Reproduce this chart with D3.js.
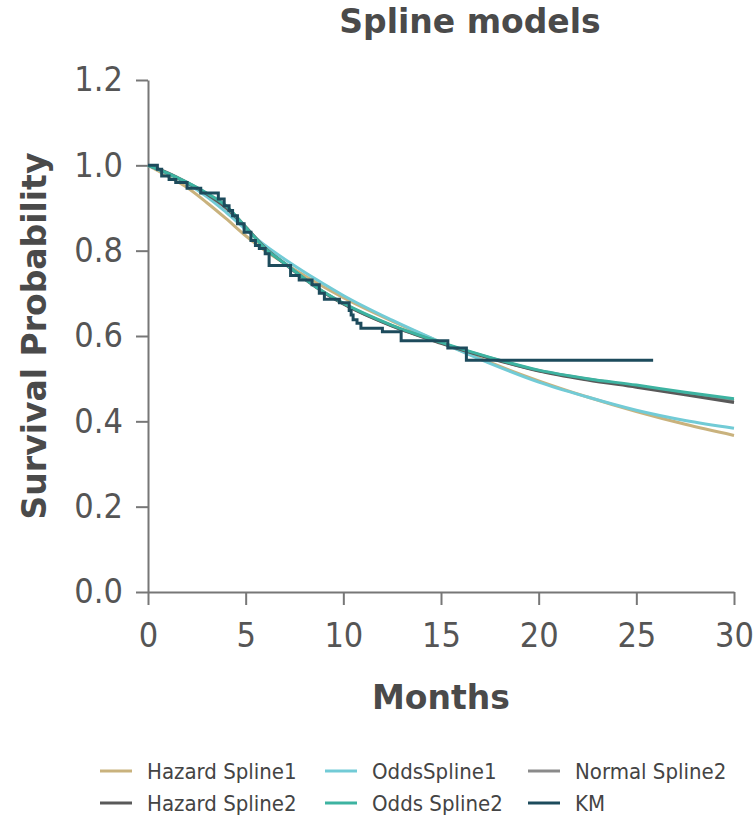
<!DOCTYPE html>
<head>
  <meta charset="utf-8" />
  <script src="https://d3js.org/d3.v7.min.js"></script>
  <style>
    body { margin: 0; background: #fff; }
    text { font-family: "DejaVu Sans", Verdana, sans-serif; }
    .narrow { font-family: "DejaVu Sans Condensed", "DejaVu Sans", sans-serif; font-stretch: condensed; }
  </style>
</head>
<body>
  <div id="chart"></div>
  <script>
    // grille des temps pour les courbes lissees (mois)
    const splineMonths = [0, 1, 2, 3, 4, 5, 6, 7, 8, 9, 10, 12.5, 15, 17.5, 20, 22.5, 25, 27.5, 30];

    // survie estimee par chaque modele
    const hazardSpline1 = [1.0, 0.975, 0.948, 0.913, 0.875, 0.835, 0.8, 0.77, 0.742, 0.715, 0.69, 0.635, 0.585, 0.538, 0.495, 0.457, 0.423, 0.393, 0.367];
    const oddsSpline1   = [1.0, 0.98, 0.957, 0.927, 0.89, 0.85, 0.812, 0.78, 0.75, 0.722, 0.695, 0.637, 0.585, 0.536, 0.492, 0.457, 0.426, 0.402, 0.384];
    const normalSpline2 = [1.0, 0.983, 0.96, 0.934, 0.903, 0.856, 0.806, 0.77, 0.735, 0.703, 0.676, 0.624, 0.584, 0.549, 0.519, 0.499, 0.483, 0.465, 0.449];
    const hazardSpline2 = [1.0, 0.982, 0.959, 0.933, 0.9, 0.855, 0.806, 0.769, 0.734, 0.702, 0.675, 0.623, 0.583, 0.548, 0.518, 0.497, 0.48, 0.462, 0.444];
    const oddsSpline2   = [1.0, 0.982, 0.96, 0.935, 0.905, 0.855, 0.805, 0.77, 0.735, 0.703, 0.677, 0.625, 0.585, 0.55, 0.52, 0.5, 0.485, 0.468, 0.453];

    // Kaplan-Meier : temps des marches et survie
    const kmMonths = [0, 0.48, 0.7, 1.08, 1.42, 2.0, 2.7, 3.6, 3.9, 4.15, 4.33, 4.58, 4.92, 5.27, 5.5, 5.7, 6.0, 6.2, 7.3, 7.74, 8.4, 8.77, 9.03, 9.8, 10.3, 10.4, 10.5, 10.7, 10.9, 12.0, 12.96, 15.35, 16.3, 25.86];
    const kmSurv   = [1.0, 0.991, 0.975, 0.967, 0.96, 0.946, 0.935, 0.921, 0.905, 0.894, 0.882, 0.863, 0.843, 0.824, 0.812, 0.805, 0.793, 0.765, 0.742, 0.731, 0.72, 0.7, 0.686, 0.678, 0.66, 0.649, 0.638, 0.63, 0.618, 0.61, 0.589, 0.572, 0.543, 0.543];

    const xTicks = [0, 5, 10, 15, 20, 25, 30];
    const yTicks = [0, 0.2, 0.4, 0.6, 0.8, 1.0, 1.2];

    const series = [
      { name: "Hazard Spline1", values: hazardSpline1, color: "#c9b27d" },
      { name: "OddsSpline1", values: oddsSpline1, color: "#72cbd6" },
      { name: "Normal Spline2", values: normalSpline2, color: "#8a8a8a" },
      { name: "Hazard Spline2", values: hazardSpline2, color: "#595959" },
      { name: "Odds Spline2", values: oddsSpline2, color: "#3db3a1" }
    ];
    const kmColor = "#1d4b5c";

    // ordre de la legende (2 lignes, 3 colonnes)
    const legendItems = [
      { name: "Hazard Spline1", color: "#c9b27d" },
      { name: "OddsSpline1", color: "#72cbd6" },
      { name: "Normal Spline2", color: "#8a8a8a" },
      { name: "Hazard Spline2", color: "#595959" },
      { name: "Odds Spline2", color: "#3db3a1" },
      { name: "KM", color: kmColor }
    ];

    const width = 756, height = 820;
    const margin = { top: 80, right: 22, bottom: 228, left: 148 };

    const svg = d3.select("#chart").append("svg")
      .attr("width", width)
      .attr("height", height);

    const x = d3.scaleLinear().domain([0, 30]).range([margin.left, width - margin.right]);
    const y = d3.scaleLinear().domain([0, 1.2]).range([height - margin.bottom, margin.top]);

    // axes
    const xAxis = svg.append("g")
      .attr("transform", "translate(0," + y(0) + ")")
      .call(d3.axisBottom(x).tickValues(xTicks).tickSize(13).tickPadding(18).tickSizeOuter(0));

    const yAxis = svg.append("g")
      .attr("transform", "translate(" + x(0) + ",0)")
      .call(d3.axisLeft(y).tickValues(yTicks).tickFormat(d3.format(".1f")).tickSize(12).tickPadding(13).tickSizeOuter(0));

    [xAxis, yAxis].forEach(function (a) {
      a.select(".domain").attr("stroke", "#777").attr("stroke-width", 2);
      a.selectAll(".tick line").attr("stroke", "#777").attr("stroke-width", 2);
      a.selectAll(".tick text").attr("class", "narrow").attr("fill", "#555").style("font-size", "34px");
    });

    // courbes
    const line = d3.line()
      .x(function (d) { return x(d[0]); })
      .y(function (d) { return y(d[1]); })
      .curve(d3.curveMonotoneX);

    svg.append("g").selectAll("path")
      .data(series)
      .join("path")
      .attr("fill", "none")
      .attr("stroke", function (d) { return d.color; })
      .attr("stroke-width", 3)
      .attr("d", function (d) {
        return line(splineMonths.map(function (t, i) { return [t, d.values[i]]; }));
      });

    const kmLine = d3.line()
      .x(function (d) { return x(d[0]); })
      .y(function (d) { return y(d[1]); })
      .curve(d3.curveStepAfter);

    svg.append("path")
      .attr("fill", "none")
      .attr("stroke", kmColor)
      .attr("stroke-width", 3)
      .attr("d", kmLine(kmMonths.map(function (t, i) { return [t, kmSurv[i]]; })));

    // titres
    svg.append("text")
      .attr("x", 470).attr("y", 33)
      .attr("text-anchor", "middle")
      .attr("fill", "#4a4a4a")
      .style("font-size", "33px").style("font-weight", "bold")
      .text("Spline models");

    svg.append("text")
      .attr("x", (x(0) + x(30)) / 2).attr("y", 709)
      .attr("text-anchor", "middle")
      .attr("fill", "#4a4a4a")
      .style("font-size", "33px").style("font-weight", "bold")
      .text("Months");

    svg.append("text")
      .attr("transform", "translate(46," + y(0.6) + ") rotate(-90)")
      .attr("text-anchor", "middle")
      .attr("fill", "#4a4a4a")
      .style("font-size", "33px").style("font-weight", "bold")
      .text("Survival Probability");

    // legende
    const colX = [100, 325, 528];
    const rowY = [771, 803];
    const legend = svg.append("g").selectAll("g")
      .data(legendItems)
      .join("g")
      .attr("transform", function (d, i) {
        return "translate(" + colX[i % 3] + "," + rowY[Math.floor(i / 3)] + ")";
      });

    legend.append("line")
      .attr("x1", 0).attr("x2", 32)
      .attr("stroke", function (d) { return d.color; })
      .attr("stroke-width", 3);

    legend.append("text")
      .attr("class", "narrow")
      .attr("x", 47).attr("dy", "0.35em")
      .attr("fill", "#444")
      .style("font-size", "22px")
      .text(function (d) { return d.name; });
  </script>
</body>
